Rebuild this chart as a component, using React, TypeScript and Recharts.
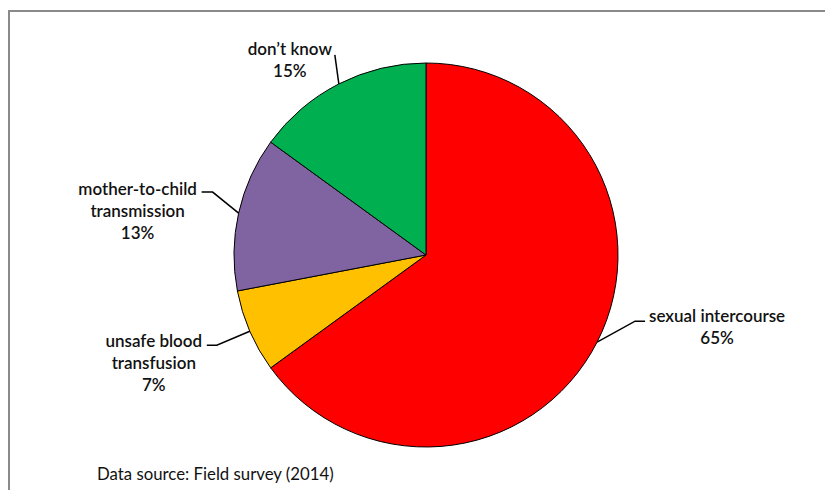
import React from "react";
import { PieChart, Pie, Cell } from "recharts";

const categories = ["sexual intercourse", "unsafe blood transfusion", "mother-to-child transmission", "don’t know"];
const labelLines = [["sexual intercourse"], ["unsafe blood", "transfusion"], ["mother-to-child", "transmission"], ["don’t know"]];
const values = [65, 7, 13, 15];
const colors = ["#FF0000", "#FFC000", "#8064A2", "#00B050"];
const sourceNote = "Data source: Field survey (2014)";

// label layout offsets relative to slice edge point
const labelLayout = [
  { elbow: [38, -21], end: [48, -21], text: [120, -27] },
  { elbow: [-33, 14], end: [-43, 14], text: [-96, 9] },
  { elbow: [-26, -21], end: [-37, -21], text: [-101, -25] },
  { elbow: null, end: [-4, -29], text: [-49, -35] },
];

const data = categories.map((c, i) => ({ name: c, value: values[i] }));

const FONT = "Lato, 'Open Sans', sans-serif";
const RAD = Math.PI / 180;

const renderLabel = (props: any) => {
  const { cx, cy, midAngle, outerRadius, index, value } = props;
  const ex = cx + outerRadius * Math.cos(-midAngle * RAD);
  const ey = cy + outerRadius * Math.sin(-midAngle * RAD);
  const L = labelLayout[index];
  const pts: number[][] = [[ex, ey]];
  if (L.elbow) pts.push([ex + L.elbow[0], ey + L.elbow[1]]);
  pts.push([ex + L.end[0], ey + L.end[1]]);
  const tx = ex + L.text[0];
  const ty = ey + L.text[1];
  const lines = [...labelLines[index], `${value}%`];
  return (
    <g key={`lbl-${index}`}>
      <polyline points={pts.map((p) => p.join(",")).join(" ")} fill="none" stroke="#000" strokeWidth={1.5} />
      {lines.map((t, k) => (
        <text
          key={k}
          x={tx}
          y={ty + k * 22}
          textAnchor="middle"
          dominantBaseline="central"
          fontFamily={FONT}
          fontWeight={600}
          fontSize={17}
          fill="#111"
        >
          {t}
        </text>
      ))}
    </g>
  );
};

export default function App() {
  return (
    <div style={{ position: "absolute", left: 0, top: 0, width: 825, height: 490, background: "#fff", overflow: "hidden" }}>
      <div
        style={{
          position: "absolute",
          left: 8,
          top: 10,
          width: 900,
          height: 600,
          borderTop: "2px solid #8a8a8a",
          borderLeft: "2px solid #8a8a8a",
        }}
      />
      <div style={{ position: "absolute", left: 0, top: 0 }}>
        <PieChart width={825} height={490} margin={{ top: 0, right: 0, bottom: 0, left: 0 }}>
          <Pie
            data={data}
            dataKey="value"
            nameKey="name"
            cx={426}
            cy={255}
            outerRadius={192}
            startAngle={90}
            endAngle={-270}
            stroke="#000"
            strokeWidth={1}
            label={renderLabel}
            labelLine={false}
            isAnimationActive={false}
          >
            {data.map((d, i) => (
              <Cell key={d.name} fill={colors[i]} />
            ))}
          </Pie>
          <text x={97} y={473} dominantBaseline="central" fontFamily={FONT} fontSize={16.8} fill="#111">
            {sourceNote}
          </text>
        </PieChart>
      </div>
    </div>
  );
}
